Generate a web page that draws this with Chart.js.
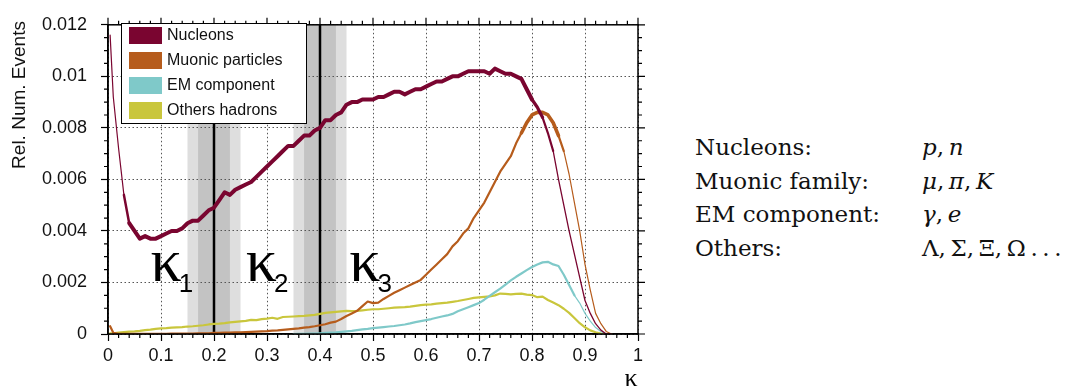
<!DOCTYPE html>
<html>
<head>
<meta charset="utf-8">
<script src="https://cdn.jsdelivr.net/npm/chart.js@4.4.0/dist/chart.umd.min.js"></script>
<style>
  body { margin: 0; background: #fff; width: 1071px; height: 390px; overflow: hidden; position: relative; }
  #wrap { position: absolute; left: 0; top: 0; width: 660px; height: 390px; }
  #species { position: absolute; left: 695px; top: 131px; font-family: 'DejaVu Serif', serif; font-size: 23px; line-height: 33.5px; color: #111; }
  #species .row { display: flex; white-space: nowrap; }
  #species .name { width: 227px; }
</style>
</head>
<body>
<div id="wrap"><canvas id="kappaChart"></canvas></div>
<div id="species">
  <div class="row"><span class="name">Nucleons:</span><span><i>p</i>,&thinsp;<i>n</i></span></div>
  <div class="row"><span class="name">Muonic family:</span><span><i>μ</i>,&thinsp;<i>π</i>,&thinsp;<i>K</i></span></div>
  <div class="row"><span class="name">EM component:</span><span><i>γ</i>,&thinsp;<i>e</i></span></div>
  <div class="row"><span class="name">Others:</span><span>Λ,&thinsp;Σ,&thinsp;Ξ,&thinsp;Ω&thinsp;.&thinsp;.&thinsp;.</span></div>
</div>
<script>
const kappa = [0.004,
  0.01,0.02,0.03,0.04,0.05,0.06,0.07,0.08,0.09,0.10,
  0.11,0.12,0.13,0.14,0.15,0.16,0.17,0.18,0.19,0.20,
  0.21,0.22,0.23,0.24,0.25,0.26,0.27,0.28,0.29,0.30,
  0.31,0.32,0.33,0.34,0.35,0.36,0.37,0.38,0.39,0.40,
  0.41,0.42,0.43,0.44,0.45,0.46,0.47,0.48,0.49,0.50,
  0.51,0.52,0.53,0.54,0.55,0.56,0.57,0.58,0.59,0.60,
  0.61,0.62,0.63,0.64,0.65,0.66,0.67,0.68,0.69,0.70,
  0.71,0.72,0.73,0.74,0.75,0.76,0.77,0.78,0.79,0.80,
  0.81,0.82,0.83,0.84,0.85,0.86,0.87,0.88,0.89,0.90,
  0.91,0.92,0.93,0.94,0.95];

const nucleons = [0.0116,
  0.0092,0.0072,0.0054,0.0043,0.0040,0.0037,0.0038,0.0037,0.0037,0.0038,
  0.0039,0.0040,0.0040,0.0041,0.0043,0.0044,0.0044,0.0046,0.0048,0.0049,
  0.0052,0.0055,0.0054,0.0056,0.0057,0.0058,0.0059,0.0061,0.0063,0.0065,
  0.0067,0.0069,0.0071,0.0073,0.0073,0.0075,0.0077,0.0077,0.0079,0.0080,
  0.0083,0.0083,0.0085,0.0086,0.0089,0.0090,0.0090,0.0091,0.0091,0.0091,
  0.0092,0.0092,0.0093,0.0094,0.0094,0.0093,0.0094,0.0095,0.0095,0.0096,
  0.0097,0.0098,0.0098,0.0099,0.0100,0.0100,0.0101,0.0102,0.0102,0.0102,
  0.0102,0.0101,0.0103,0.0102,0.0101,0.0101,0.0100,0.0099,0.0095,0.0091,
  0.0088,0.0084,0.0078,0.0071,0.0060,0.0050,0.0040,0.0031,0.0022,0.0013,
  0.0008,0.0004,0.00015,0,0];

const muonic = [0.0003,
  0.00005,0.00001,0.00001,0.00001,0.00001,0.00001,0.00001,0.00001,0.00001,0.00001,
  0.00001,0.00002,0.00002,0.00002,0.00002,0.00002,0.00003,0.00003,0.00003,0.00004,
  0.00004,0.00005,0.00005,0.00006,0.00006,0.00007,0.00008,0.00009,0.0001,0.00011,
  0.00013,0.00014,0.00016,0.00018,0.0002,0.00022,0.00025,0.00027,0.0003,0.00034,
  0.00038,0.00044,0.00048,0.00058,0.0007,0.0008,0.0009,0.00108,0.00126,0.0012,
  0.00122,0.00136,0.00148,0.0016,0.0017,0.0018,0.0019,0.002,0.0021,0.0023,
  0.0025,0.0027,0.0029,0.0031,0.0034,0.0036,0.0039,0.0041,0.0045,0.0048,
  0.0051,0.0055,0.0059,0.0063,0.0066,0.0069,0.0074,0.0078,0.0082,0.0085,
  0.0086,0.0086,0.0085,0.0082,0.0077,0.0071,0.0062,0.0051,0.0040,0.0027,
  0.0017,0.0008,0.0004,0.0001,0];

const emComponent = [null,
  null,null,null,null,null,null,null,null,null,null,
  null,null,null,null,null,null,null,null,null,null,
  null,null,null,null,null,null,null,null,null,null,
  null,null,null,null,0,0.00001,0.00001,0.00002,0.00002,0.00003,
  0.00004,0.00005,0.00006,0.00008,0.0001,0.00012,0.00015,0.00018,0.0002,0.00023,
  0.00025,0.00027,0.00029,0.00031,0.00034,0.00037,0.00041,0.00046,0.0005,0.00054,
  0.00058,0.00063,0.00068,0.00072,0.00078,0.00088,0.00096,0.00104,0.00112,0.0012,
  0.00133,0.00148,0.00162,0.00176,0.00192,0.00208,0.00222,0.00235,0.00248,0.0026,
  0.0027,0.00278,0.0028,0.0027,0.00264,0.0023,0.0019,0.0015,0.0012,0.0008,
  0.0005,0.00025,0.0001,0,0];

const otherHadrons = [0.00003,
  0.00003,0.00005,0.00007,0.00009,0.0001,0.00012,0.00015,0.00017,0.0002,0.00022,
  0.00023,0.00025,0.00026,0.00027,0.00029,0.0003,0.00032,0.00034,0.00037,0.00039,
  0.0004,0.00042,0.00045,0.00047,0.00049,0.00051,0.00055,0.00054,0.00058,0.0006,
  0.00063,0.00059,0.00066,0.00067,0.00068,0.00069,0.0007,0.00072,0.00074,0.00078,
  0.00082,0.00084,0.00086,0.00088,0.0009,0.00089,0.0009,0.00092,0.00094,0.00096,
  0.00096,0.00098,0.001,0.00102,0.00103,0.00104,0.00106,0.00109,0.00112,0.00114,
  0.00115,0.00118,0.0012,0.00122,0.00125,0.00128,0.00132,0.00136,0.0014,0.00142,
  0.00144,0.00146,0.0015,0.00157,0.00156,0.00154,0.00156,0.00157,0.00153,0.00151,
  0.00143,0.00145,0.00132,0.00122,0.00112,0.00098,0.00082,0.00062,0.00042,0.00026,
  0.00014,0.00007,0.00002,0,0];

const seriesLabels = ['Nucleons', 'Muonic particles', 'EM component', 'Others hadrons'];
const xTicks = [0, 0.1, 0.2, 0.3, 0.4, 0.5, 0.6, 0.7, 0.8, 0.9, 1];
const yTicks = [0, 0.002, 0.004, 0.006, 0.008, 0.01, 0.012];
const bandCenters = [0.2, 0.4];
const kappaMarks = ['1', '2', '3'];
const kappaMarkAt = [0.08, 0.26, 0.455];

const colors = ['#7a0530', '#b65c1c', '#7fc9c9', '#c9c63c'];
const fmt = (v) => String(+v.toFixed(4));
const pts = (vals) => kappa.map((k, i) => ({ x: k, y: vals[i] }));

const backdrop = {
  id: 'backdrop',
  beforeDraw(chart) {
    const { ctx, chartArea: a, scales: { x } } = chart;
    ctx.save();
    bandCenters.forEach((c) => {
      ctx.fillStyle = '#dedede';
      ctx.fillRect(x.getPixelForValue(c - 0.05), a.top, x.getPixelForValue(c + 0.05) - x.getPixelForValue(c - 0.05), a.bottom - a.top);
      ctx.fillStyle = '#c3c3c3';
      ctx.fillRect(x.getPixelForValue(c - 0.03), a.top, x.getPixelForValue(c + 0.03) - x.getPixelForValue(c - 0.03), a.bottom - a.top);
    });
    ctx.restore();
  },
  beforeDatasetsDraw(chart) {
    const { ctx, chartArea: a, scales: { x } } = chart;
    ctx.save();
    ctx.strokeStyle = '#000';
    ctx.lineWidth = 2.5;
    bandCenters.forEach((c) => {
      const px = x.getPixelForValue(c);
      ctx.beginPath();
      ctx.moveTo(px, a.top);
      ctx.lineTo(px, a.bottom);
      ctx.stroke();
    });
    ctx.restore();
  },
};

const frame = {
  id: 'frame',
  afterDraw(chart) {
    const { ctx, chartArea: a, scales: { x, y } } = chart;
    ctx.save();
    ctx.strokeStyle = '#000';
    ctx.lineWidth = 1.5;
    ctx.strokeRect(a.left, a.top, a.right - a.left, a.bottom - a.top);

    // ticks on top/right plus minor ticks everywhere
    ctx.lineWidth = 1.2;
    ctx.beginPath();
    for (let i = 0; i <= 50; i++) {
      const px = x.getPixelForValue(i * 0.02);
      const len = i % 5 === 0 ? 7 : 4;
      ctx.moveTo(px, a.top); ctx.lineTo(px, a.top - len);
      if (i % 5 !== 0) { ctx.moveTo(px, a.bottom); ctx.lineTo(px, a.bottom + len); }
    }
    for (let i = 0; i <= 24; i++) {
      const py = y.getPixelForValue(i * 0.0005);
      const len = i % 4 === 0 ? 7 : 4;
      ctx.moveTo(a.right, py); ctx.lineTo(a.right + len, py);
      if (i % 4 !== 0) { ctx.moveTo(a.left, py); ctx.lineTo(a.left - len, py); }
    }
    ctx.stroke();

    // legend box
    ctx.fillStyle = '#fff';
    ctx.fillRect(121.5, 23.5, 185, 100);
    ctx.lineWidth = 1;
    ctx.strokeRect(121.5, 23.5, 185, 100);
    ctx.font = '16px "Liberation Sans", Arial, sans-serif';
    ctx.textBaseline = 'middle';
    seriesLabels.forEach((lab, i) => {
      ctx.fillStyle = colors[i];
      ctx.fillRect(129, 27 + i * 25, 33, 17);
      ctx.fillStyle = '#111';
      ctx.fillText(lab, 167, 36 + i * 25);
    });

    // y axis title
    ctx.save();
    ctx.translate(20, 95);
    ctx.rotate(-Math.PI / 2);
    ctx.textAlign = 'center';
    ctx.textBaseline = 'middle';
    ctx.font = '19px "Liberation Sans", Arial, sans-serif';
    ctx.fillStyle = '#111';
    ctx.fillText('Rel. Num. Events', 0, 0);
    ctx.restore();

    // kappa region labels
    ctx.fillStyle = '#000';
    ctx.textBaseline = 'alphabetic';
    const base = y.getPixelForValue(0.00205);
    kappaMarks.forEach((m, i) => {
      const px = x.getPixelForValue(kappaMarkAt[i]);
      ctx.font = '62px "Liberation Serif", serif';
      ctx.fillText('κ', px, base);
      const w = ctx.measureText('κ').width;
      ctx.font = '26px "Liberation Sans", sans-serif';
      ctx.fillText(m, px + w - 3, base + 11);
    });

    // x axis title
    ctx.font = '26px "Liberation Serif", serif';
    ctx.textAlign = 'center';
    ctx.fillText('κ', x.getPixelForValue(0.987), 386);
    ctx.restore();
  },
};

const widths = [
  (k) => (k < 0.03 ? 1.2 : k < 0.04 ? 2.5 : k < 0.80 ? 4 : k < 0.82 ? 3.2 : k < 0.835 ? 2.2 : 1.3),
  (k) => (k > 0.775 && k < 0.845 ? 3.6 : k > 0.855 ? 1.2 : 2.2),
  (k) => (k > 0.875 ? 1.2 : 2.2),
  () => 2.2,
];

new Chart(document.getElementById('kappaChart'), {
  type: 'line',
  data: {
    datasets: [nucleons, muonic, emComponent, otherHadrons].map((vals, i) => ({
      label: seriesLabels[i],
      data: pts(vals),
      borderColor: colors[i],
      backgroundColor: colors[i],
      borderWidth: 2.2,
      pointRadius: 0,
      tension: 0,
      spanGaps: false,
      borderJoinStyle: 'round',
      borderCapStyle: 'round',
      segment: { borderWidth: (c) => widths[i](c.p0.parsed.x) },
    })),
  },
  options: {
    responsive: true,
    maintainAspectRatio: false,
    animation: false,
    devicePixelRatio: 1,
    layout: { padding: { left: 0, right: 22, top: 20, bottom: 0 } },
    plugins: { legend: { display: false }, tooltip: { enabled: false } },
    scales: {
      x: {
        type: 'linear', min: 0, max: 1,
        afterFit: (s) => { s.height = 56; },
        afterBuildTicks: (s) => { s.ticks = xTicks.map((v) => ({ value: v })); },
        ticks: { callback: fmt, font: { family: '"Liberation Sans", Arial, sans-serif', size: 18 }, color: '#111', padding: 4, maxRotation: 0, autoSkip: false },
        grid: { color: '#555', lineWidth: 1, tickLength: 7, tickColor: '#000', tickWidth: 1.2 },
        border: { color: '#000', width: 1.5, dash: [1.5, 2.5] },
      },
      y: {
        type: 'linear', min: 0, max: 0.012,
        afterFit: (s) => { s.width = 108; },
        afterBuildTicks: (s) => { s.ticks = yTicks.map((v) => ({ value: v })); },
        ticks: { callback: fmt, font: { family: '"Liberation Sans", Arial, sans-serif', size: 18 }, color: '#111', padding: 14 },
        grid: { color: '#555', lineWidth: 1, tickLength: 7, tickColor: '#000', tickWidth: 1.2 },
        border: { color: '#000', width: 1.5, dash: [1.5, 2.5] },
      },
    },
  },
  plugins: [backdrop, frame],
});
</script>
</body>
</html>
